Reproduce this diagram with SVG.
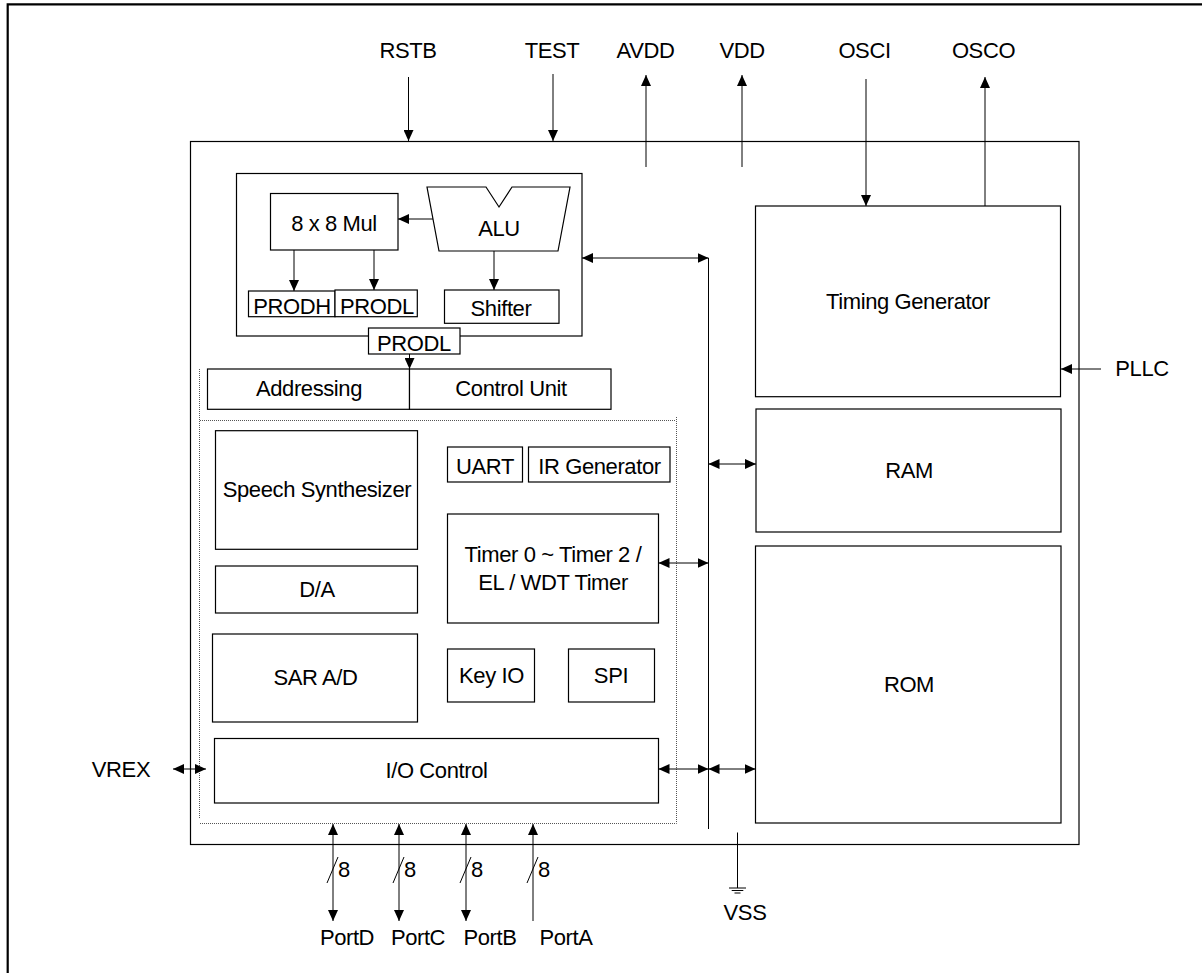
<svg xmlns="http://www.w3.org/2000/svg" width="1202" height="973" viewBox="0 0 1202 973">
<defs>
<marker id="ah" viewBox="0 0 11 10" refX="11" refY="5" markerWidth="11" markerHeight="10" markerUnits="userSpaceOnUse" orient="auto-start-reverse">
<path d="M0,0 L11,5 L0,10 z" fill="#000"/>
</marker>
</defs>
<style>
text{font-family:"Liberation Sans",Arial,sans-serif;font-size:22px;letter-spacing:-0.4px;fill:#000;text-anchor:middle}
.b{fill:#fff;stroke:#000;stroke-width:1.2}
.l{fill:none;stroke:#000;stroke-width:1}
.a{fill:none;stroke:#000;stroke-width:1;marker-end:url(#ah)}
.d{fill:none;stroke:#000;stroke-width:1;marker-start:url(#ah);marker-end:url(#ah)}
.dot{fill:none;stroke:#555;stroke-width:1;stroke-dasharray:1 1}
</style>
<rect width="1202" height="973" fill="#fff"/>
<path d="M7.7,973 V4.3 H1202" fill="none" stroke="#000" stroke-width="2.2"/>

<g id="chip"><rect class="b" x="190.5" y="141.5" width="888.5" height="703"/></g>

<g id="dotted-frame">
<path class="dot" d="M200,420.5 H676 M676.5,417 V823.5 M200,823.5 H676.5 M199.5,369 V818"/>
</g>

<g id="alu-block"><rect class="b" x="236.5" y="173.5" width="345.5" height="162.5"/></g>
<g id="mul"><rect class="b" x="270.5" y="193.5" width="127.5" height="56.5"/><text x="334" y="230.5">8 x 8 Mul</text></g>
<g id="alu"><polygon class="b" points="427,187 486,187 499,207 512,187 570,187 558,251 439,251"/><text x="499" y="236">ALU</text></g>
<g id="prodh"><rect class="b" x="248.5" y="291" width="86.5" height="25.7"/><text x="292" y="314">PRODH</text></g>
<g id="prodl1"><rect class="b" x="335" y="290" width="82.3" height="26.7"/><text x="377" y="314">PRODL</text></g>
<g id="shifter"><rect class="b" x="444.5" y="290" width="114.5" height="33.3"/><text x="501" y="316">Shifter</text></g>
<g id="prodl2"><rect class="b" x="368.5" y="328" width="91.5" height="26"/><text x="414" y="351">PRODL</text></g>
<g id="addressing"><rect class="b" x="207.5" y="369" width="202" height="40.3"/><text x="309" y="396">Addressing</text></g>
<g id="control-unit"><rect class="b" x="409.5" y="369" width="201.5" height="40.3"/><text x="511" y="396">Control Unit</text></g>

<g id="speech"><rect class="b" x="215.5" y="430.7" width="202" height="118.6"/><text x="317" y="497">Speech Synthesizer</text></g>
<g id="da"><rect class="b" x="215.5" y="566" width="202" height="47"/><text x="317" y="596.5">D/A</text></g>
<g id="sar"><rect class="b" x="212.5" y="634" width="205" height="88"/><text x="315.5" y="685">SAR A/D</text></g>
<g id="uart"><rect class="b" x="447.5" y="447" width="75" height="35"/><text x="485" y="474">UART</text></g>
<g id="irgen"><rect class="b" x="528.5" y="447" width="141.5" height="35"/><text x="599.5" y="474">IR Generator</text></g>
<g id="timer"><rect class="b" x="447.5" y="514" width="211" height="109"/><text x="553" y="561.5">Timer 0 ~ Timer 2 /</text><text x="553" y="590">EL / WDT Timer</text></g>
<g id="keyio"><rect class="b" x="447.5" y="649" width="87" height="53"/><text x="491.5" y="683">Key IO</text></g>
<g id="spi"><rect class="b" x="568.5" y="649" width="86" height="53"/><text x="611" y="683">SPI</text></g>
<g id="io"><rect class="b" x="214.5" y="738.5" width="444" height="64.5"/><text x="436.5" y="777.5">I/O Control</text></g>

<g id="timing"><rect class="b" x="755.5" y="206" width="305" height="190.7"/><text x="908" y="309">Timing Generator</text></g>
<g id="ram"><rect class="b" x="756" y="409" width="305" height="123"/><text x="909" y="477.5">RAM</text></g>
<g id="rom"><rect class="b" x="755.5" y="546" width="305.5" height="277"/><text x="909" y="691.5">ROM</text></g>

<g id="connectors">
<path class="a" d="M408.5,77 V141"/>
<path class="a" d="M553,74 V141"/>
<path class="a" d="M646,167 V75"/>
<path class="a" d="M742,167 V75"/>
<path class="a" d="M866,79 V206"/>
<path class="a" d="M985,206 V77"/>
<path class="a" d="M1101,369 H1061"/>
<path class="a" d="M433,219 H398"/>
<path class="a" d="M294,250 V291"/>
<path class="a" d="M374,250 V290"/>
<path class="a" d="M494,251 V290"/>
<path class="a" d="M409.5,354 V369"/>
<path class="l" d="M708.5,258 V829"/>
<path class="d" d="M582,258 H708.5"/>
<path class="d" d="M708.5,464 H756"/>
<path class="d" d="M658.5,563 H708.5"/>
<path class="d" d="M658.5,769 H708.5"/>
<path class="d" d="M708.5,769 H755.5"/>
<path class="d" d="M173,769 H206"/>
<path class="d" d="M333,824 V921"/>
<path class="d" d="M399,824 V921"/>
<path class="d" d="M466,824 V921"/>
<path class="a" d="M533,921 V824"/>
<path class="l" d="M327,883 L338,857 M393,883 L404,857 M460,883 L471,857 M527,883 L538,857"/>
<path class="l" d="M737.5,832.5 V888 M729,888 H746 M731.7,890.5 H743.3 M734.5,893 H740.5"/>
</g>

<g id="labels">
<text x="408" y="57.5">RSTB</text>
<text x="552" y="57.5">TEST</text>
<text x="645.5" y="57.5">AVDD</text>
<text x="742" y="57.5">VDD</text>
<text x="864.5" y="57.5">OSCI</text>
<text x="983.5" y="57.5">OSCO</text>
<text x="1142" y="376">PLLC</text>
<text x="121" y="776.5">VREX</text>
<text x="745" y="919.5">VSS</text>
<text x="347" y="945">PortD</text>
<text x="418" y="945">PortC</text>
<text x="490" y="945">PortB</text>
<text x="566" y="945">PortA</text>
<text x="344" y="877">8</text>
<text x="410" y="877">8</text>
<text x="477" y="877">8</text>
<text x="544" y="877">8</text>
</g>
</svg>
